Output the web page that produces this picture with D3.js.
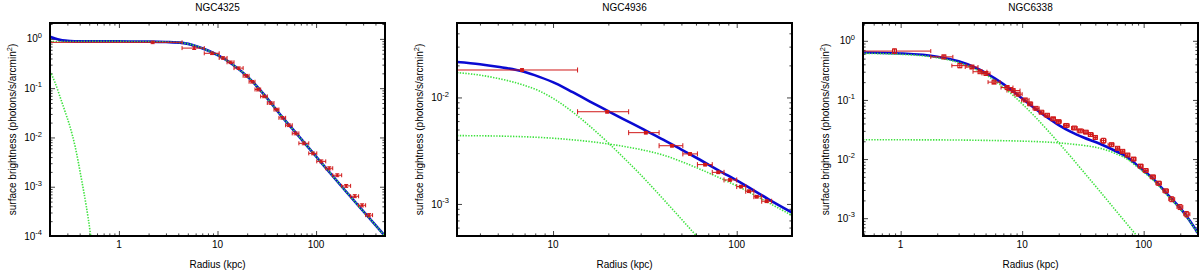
<!DOCTYPE html>
<html><head><meta charset="utf-8">
<script src="https://cdn.jsdelivr.net/npm/d3@7"></script>
<style>
body{margin:0;background:#fff}
svg{display:block;font-family:"Liberation Sans",Arial,sans-serif}
</style>
</head><body>
<svg id="c" width="1200" height="271"></svg>
<script>
// ---------- data ----------
const titles = ["NGC4325", "NGC4936", "NGC6338"];
const xLabel = "Radius (kpc)";

const p1XTicks = [1, 10, 100];
const p2XTicks = [10, 100];
const p3XTicks = [1, 10, 100];
const p1YExp = [0, -1, -2, -3, -4];
const p2YExp = [-2, -3];
const p3YExp = [0, -1, -2, -3];

// points: [x, xlo, xhi, y, ylo, yhi]
const p1Points = [
  [2.2, 0.05, 4.37, 0.85, 0.80, 0.90],
  [5.8, 4.37, 7.34, 0.65, 0.61, 0.69],
  [8.8, 7.34, 10.4, 0.51, 0.48, 0.54],
  [11.4, 10.4, 12.5, 0.41, 0.385, 0.435],
  [13.6, 12.5, 14.7, 0.335, 0.315, 0.355],
  [16.4, 14.7, 18.2, 0.255, 0.24, 0.27],
  [19.5, 18.2, 20.9, 0.178, 0.167, 0.19],
  [22.4, 20.9, 24.0, 0.135, 0.127, 0.143],
  [25.7, 24.0, 27.4, 0.094, 0.088, 0.10],
  [29.7, 27.4, 32.0, 0.068, 0.064, 0.072],
  [34.6, 32.0, 37.4, 0.050, 0.047, 0.053],
  [39.7, 37.4, 42.0, 0.0368, 0.0345, 0.039],
  [45.5, 42.0, 49.1, 0.025, 0.0235, 0.0265],
  [53, 49.1, 57.3, 0.0177, 0.0166, 0.0188],
  [62, 57.3, 66.9, 0.0121, 0.0113, 0.0129],
  [75, 66.9, 84.3, 0.0076, 0.0071, 0.0081],
  [93, 84.3, 101.6, 0.00475, 0.00445, 0.00505],
  [113, 101.6, 125.3, 0.00327, 0.00305, 0.0035],
  [136, 125.3, 147.5, 0.00237, 0.0022, 0.00254],
  [164, 147.5, 181.8, 0.00171, 0.0016, 0.00183],
  [202, 181.8, 224, 0.00104, 0.00097, 0.00111],
  [247, 224, 270, 0.00064, 0.0006, 0.00069],
  [293, 270, 318, 0.00042, 0.00039, 0.00045],
  [345, 318, 374, 0.000265, 0.000245, 0.000285]
];
const p1Total = [[0.2,1.105],[0.225,1.015],[0.252,0.955],[0.285,0.92],[0.32,0.902],[0.4,0.89],[0.5,0.888],[1,0.888],[2,0.88],[3,0.865],[4.4,0.83],[6,0.72],[8,0.58],[10.4,0.45],[14,0.31],[20.9,0.16],[30,0.072],[45,0.0265],[67,0.0105],[100,0.0041],[200,0.00081],[500,0.0001]];
const p1Compact = [[0.2,0.22],[0.225,0.13],[0.252,0.068],[0.285,0.033],[0.318,0.0169],[0.36,0.0065],[0.417,0.00142],[0.465,0.00042],[0.514,0.00011],[0.56,0.000025]];
const p1Extended = [[0.2,0.885],[0.3,0.887],[0.5,0.888],[1,0.888],[2,0.88],[3,0.865],[4.4,0.83],[6,0.72],[8,0.58],[10.4,0.45],[14,0.31],[20.9,0.16],[30,0.072],[45,0.0265],[67,0.0105],[100,0.0041],[200,0.00081],[500,0.0001]];

const p2Points = [
  [6.78, 0.5, 13.6, 0.0181, 0.0176, 0.0186],
  [19.7, 13.6, 25.8, 0.00734, 0.00715, 0.00753],
  [32.0, 25.8, 37.8, 0.00467, 0.00455, 0.00479],
  [44.4, 37.8, 50.9, 0.00352, 0.00343, 0.00361],
  [55.7, 50.9, 61.1, 0.00295, 0.00287, 0.00303],
  [67.3, 61.1, 73.6, 0.00234, 0.00228, 0.0024],
  [79.4, 73.6, 85.3, 0.00198, 0.00193, 0.00203],
  [91.9, 85.3, 100, 0.00168, 0.00164, 0.00172],
  [105.5, 100, 112, 0.001456, 0.00142, 0.00149],
  [116.7, 112, 124, 0.001315, 0.00128, 0.00135],
  [128.5, 124, 136.8, 0.00117, 0.00114, 0.0012],
  [145.5, 136.8, 155, 0.00106, 0.00103, 0.00109]
];
const p2Total = [[3,0.0215],[4,0.0205],[5,0.0194],[6.87,0.0175],[8.42,0.0156],[10.4,0.0135],[12.8,0.0112],[15.8,0.0092],[19.5,0.0076],[24,0.0063],[29.8,0.0052],[40,0.0040],[50,0.00324],[63.1,0.0026],[80,0.00206],[104,0.0016],[150,0.0011],[200,0.00083]];
const p2Core = [[3,0.0171],[4,0.0162],[5,0.0151],[6.87,0.0131],[8.42,0.0115],[10.4,0.0094],[12.8,0.0073],[15.8,0.0054],[19.5,0.0039],[24,0.00276],[29.8,0.0019],[40,0.0011],[50,0.00072],[63.1,0.00046],[80,0.00029]];
const p2Halo = [[3,0.00438],[5,0.00434],[10.4,0.00412],[19.5,0.00368],[29.8,0.00325],[40,0.00287],[60,0.0022],[80,0.00177],[104,0.00143],[150,0.00102],[200,0.00078]];

const p3Points = [
  [0.89, 0.3, 1.77, 0.67, 0.61, 0.73],
  [2.27, 1.77, 2.69, 0.535, 0.50, 0.57],
  [3.07, 2.64, 3.51, 0.38, 0.35, 0.41],
  [3.86, 3.40, 4.33, 0.36, 0.34, 0.38],
  [4.50, 3.94, 5.13, 0.30, 0.285, 0.315],
  [5.04, 4.67, 5.44, 0.28, 0.265, 0.295],
  [5.87, 5.24, 6.58, 0.20, 0.19, 0.21],
  [7.52, 6.70, 8.40, 0.162, 0.154, 0.17],
  [8.43, 7.50, 9.60, 0.144, 0.137, 0.151],
  [9.27, 8.60, 10.0, 0.125, 0.119, 0.131],
  [10.6, 9.9, 11.4, 0.100, 0.095, 0.105],
  [11.6, 11.1, 12.2, 0.086, 0.082, 0.09],
  [13.0, 12.3, 13.8, 0.072, 0.068, 0.076],
  [14.4, 13.8, 15.1, 0.062, 0.059, 0.065],
  [16.1, 15.2, 16.8, 0.055, 0.052, 0.058],
  [18.0, 17.2, 18.8, 0.048, 0.0455, 0.0505],
  [19.9, 19.0, 21.0, 0.043, 0.041, 0.045],
  [23.1, 21.9, 24.4, 0.037, 0.035, 0.039],
  [26.9, 25.5, 28.4, 0.0335, 0.0318, 0.0352],
  [30.1, 28.4, 32.0, 0.030, 0.0285, 0.0315],
  [33.5, 32.0, 35.0, 0.0285, 0.027, 0.030],
  [36.5, 35.0, 38.5, 0.026, 0.0245, 0.0275],
  [40.0, 38.5, 41.5, 0.0232, 0.0218, 0.0246],
  [46.7, 44, 49, 0.0205, 0.0185, 0.0225],
  [54.4, 51, 57, 0.0175, 0.0165, 0.0185],
  [61, 58.5, 63.5, 0.0152, 0.0144, 0.016],
  [67, 64, 70, 0.0135, 0.0128, 0.0142],
  [73.8, 70.5, 77, 0.0117, 0.0111, 0.0123],
  [82.6, 79, 86.5, 0.0100, 0.0094, 0.0106],
  [94.3, 90, 99, 0.0076, 0.0071, 0.0081],
  [104, 99, 109, 0.0064, 0.006, 0.0068],
  [119, 113, 125, 0.0050, 0.0047, 0.0053],
  [133, 126, 140, 0.0039, 0.0036, 0.0042],
  [152, 144, 160, 0.0029, 0.0027, 0.0031],
  [170, 161, 180, 0.0021, 0.0019, 0.0023],
  [199, 188, 210, 0.00155, 0.0014, 0.0017],
  [226, 214, 240, 0.00117, 0.00105, 0.0013]
];
const p3Total = [[0.49,0.634],[1,0.611],[2,0.539],[3,0.449],[4,0.361],[5,0.288],[6,0.229],[8,0.152],[10,0.106],[12.5,0.0738],[16,0.051],[20,0.0376],[25,0.0291],[32,0.0231],[44,0.0180],[57,0.0141],[73,0.0108],[94.5,0.0070],[121.6,0.0045],[157,0.00252],[215,0.00123],[285,0.00053]];
const p3Core = [[0.49,0.613],[1,0.59],[2,0.518],[3,0.428],[4,0.34],[5,0.267],[6,0.209],[8,0.131],[10,0.086],[12.5,0.0544],[16,0.0315],[20,0.0188],[25,0.0111],[32,0.00608],[44,0.00279],[60,0.00129],[75,0.000744],[92,0.000447]];
const p3Halo = [[0.49,0.0212],[2,0.0211],[5,0.0207],[10,0.0201],[15,0.0195],[20,0.0188],[25,0.0180],[32,0.0170],[44,0.0152],[57,0.0127],[73,0.0100],[94.5,0.0066],[121.6,0.0043],[157,0.00243],[215,0.0012],[285,0.00052]];

// ---------- layout ----------
const panels = [
  {title: titles[0], box: [50, 385, 23, 236], xDom: [0.2, 500], yDom: [1e-4, 2.1],
   xTicks: p1XTicks, yExp: p1YExp, pts: p1Points, total: p1Total, comps: [p1Compact, p1Extended], marker: "dot"},
  {title: titles[1], box: [457, 792, 23, 236], xDom: [3, 200], yDom: [5e-4, 0.05],
   xTicks: p2XTicks, yExp: p2YExp, pts: p2Points, total: p2Total, comps: [p2Core, p2Halo], marker: "square"},
  {title: titles[2], box: [863, 1198, 23, 236], xDom: [0.49, 280], yDom: [5e-4, 2],
   xTicks: p3XTicks, yExp: p3YExp, pts: p3Points, total: p3Total, comps: [p3Core, p3Halo], marker: "open"}
];

const RED = "#d01818", BLUE = "#0a0ad2", GREEN = "#3ee23e";
const svg = d3.select("#c");
const defs = svg.append("defs");

function logTicks(dom) {
  const lo = Math.min(dom[0], dom[1]), hi = Math.max(dom[0], dom[1]);
  const maj = [], min = [];
  for (let e = Math.floor(Math.log10(lo)) - 1; e <= Math.ceil(Math.log10(hi)); e++) {
    for (let k = 1; k <= 9; k++) {
      const v = k * Math.pow(10, e);
      if (v >= lo * 0.999 && v <= hi * 1.001) (k === 1 ? maj : min).push(v);
    }
  }
  return {maj, min};
}

panels.forEach((p, i) => {
  const [L, R, T, B] = p.box;
  const x = d3.scaleLog().domain(p.xDom).range([L, R]);
  const y = d3.scaleLog().domain(p.yDom).range([B, T]);
  const g = svg.append("g");
  const cid = "clip" + i;
  defs.append("clipPath").attr("id", cid).append("rect")
    .attr("x", L).attr("y", T).attr("width", R - L).attr("height", B - T);

  // ticks (inside, all four sides)
  const xt = logTicks(p.xDom), yt = logTicks(p.yDom);
  const tickSets = [
    [d3.axisBottom, x, `translate(0,${B})`],
    [d3.axisTop, x, `translate(0,${T})`],
    [d3.axisLeft, y, `translate(${L},0)`],
    [d3.axisRight, y, `translate(${R},0)`]
  ];
  tickSets.forEach(([fn, sc, tr], j) => {
    const t = j < 2 ? xt : yt;
    [[t.maj, 5], [t.min, 2.6]].forEach(([vals, len]) => {
      const ax = g.append("g").attr("transform", tr)
        .call(fn(sc).tickValues(vals).tickSize(-len).tickFormat(""));
      ax.select(".domain").remove();
      ax.selectAll("line").attr("stroke", "#444").attr("stroke-width", 1);
    });
  });

  const plot = g.append("g").attr("clip-path", `url(#${cid})`);
  const line = d3.line().x(d => x(d[0])).y(d => y(d[1])).curve(d3.curveMonotoneX);

  plot.append("path").attr("d", line(p.total)).attr("fill", "none")
    .attr("stroke", BLUE).attr("stroke-width", 2.6);
  p.comps.forEach(c => {
    plot.append("path").attr("d", line(c)).attr("fill", "none")
      .attr("stroke", GREEN).attr("stroke-width", 1.6).attr("stroke-dasharray", "1.4,1.4");
  });

  // error bars
  const cap = p.marker === "square" ? 2.5 : 2;
  p.pts.forEach(d => {
    const [xv, xlo, xhi, yv, ylo, yhi] = d;
    const yy = y(yv), xx = x(xv);
    const x0 = x(xlo), x1 = x(xhi);
    plot.append("line").attr("x1", x0).attr("x2", x1).attr("y1", yy).attr("y2", yy)
      .attr("stroke", RED).attr("stroke-width", 1);
    [x0, x1].forEach(cx => plot.append("line").attr("x1", cx).attr("x2", cx)
      .attr("y1", yy - cap).attr("y2", yy + cap).attr("stroke", RED).attr("stroke-width", 1));
    const y0 = y(ylo), y1 = y(yhi);
    plot.append("line").attr("x1", xx).attr("x2", xx).attr("y1", y0).attr("y2", y1)
      .attr("stroke", RED).attr("stroke-width", 1);
    if (Math.abs(y0 - y1) > 2) {
      [y0, y1].forEach(cy => plot.append("line").attr("x1", xx - 2).attr("x2", xx + 2)
        .attr("y1", cy).attr("y2", cy).attr("stroke", RED).attr("stroke-width", 1));
    }
    if (p.marker === "square") {
      plot.append("rect").attr("x", xx - 1.8).attr("y", yy - 1.8).attr("width", 3.6).attr("height", 3.6).attr("fill", RED);
    } else if (p.marker === "open") {
      plot.append("rect").attr("x", xx - 2).attr("y", yy - 2).attr("width", 4).attr("height", 4)
        .attr("fill", "none").attr("stroke", RED).attr("stroke-width", 1);
    } else {
      plot.append("rect").attr("x", xx - 1).attr("y", yy - 1).attr("width", 2).attr("height", 2).attr("fill", RED);
    }
  });

  // frame
  g.append("rect").attr("x", L).attr("y", T).attr("width", R - L).attr("height", B - T)
    .attr("fill", "none").attr("stroke", "#000").attr("stroke-width", 2);

  // x tick labels
  p.xTicks.forEach(v => {
    g.append("text").attr("x", x(v)).attr("y", B + 12).attr("text-anchor", "middle")
      .attr("font-size", 10).attr("fill", "#000").text(String(v));
  });
  // y tick labels 10^e
  p.yExp.forEach(e => {
    const t = g.append("text").attr("x", L - 8).attr("y", y(Math.pow(10, e)) + 3.6)
      .attr("text-anchor", "end").attr("font-size", 10).attr("fill", "#000");
    t.append("tspan").text("10");
    t.append("tspan").attr("dy", -4.5).attr("font-size", 7.5).text(String(e));
  });

  // title & axis labels
  g.append("text").attr("x", (L + R) / 2).attr("y", 11).attr("text-anchor", "middle")
    .attr("font-size", 10).text(p.title);
  g.append("text").attr("x", (L + R) / 2).attr("y", 268).attr("text-anchor", "middle")
    .attr("font-size", 10).text(xLabel);
  const yl = g.append("text").attr("transform", `translate(${L - 38},${(T + B) / 2}) rotate(-90)`)
    .attr("text-anchor", "middle").attr("dy", "0.35em").attr("font-size", 10);
  yl.append("tspan").text("surface brightness (photons/s/arcmin");
  yl.append("tspan").attr("dy", -4).attr("font-size", 7.5).text("2");
  yl.append("tspan").attr("dy", 4).text(")");
});
</script>
</body></html>
